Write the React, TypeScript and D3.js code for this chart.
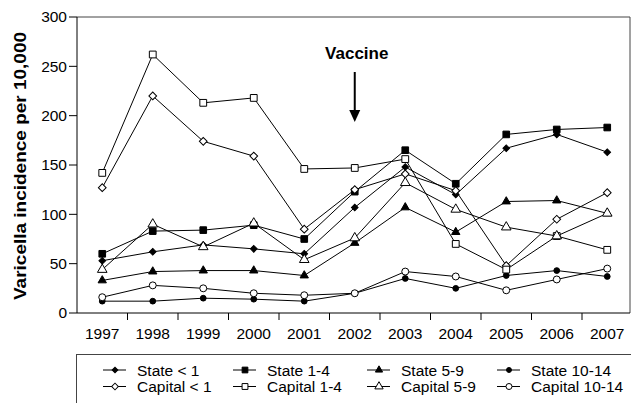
import React from 'react';
import * as d3 from 'd3';

const years = ['1997', '1998', '1999', '2000', '2001', '2002', '2003', '2004', '2005', '2006', '2007'];
const yTicks = [0, 50, 100, 150, 200, 250, 300];

const stateLt1 = [53, 62, 69, 65, 60, 107, 148, 120, 167, 181, 163];
const state1to4 = [60, 83, 84, 89, 75, 123, 165, 131, 181, 186, 188];
const state5to9 = [33, 42, 43, 43, 38, 71, 107, 82, 113, 114, 101];
const state10to14 = [12, 12, 15, 14, 12, 20, 35, 25, 38, 43, 37];
const capitalLt1 = [127, 220, 174, 159, 85, 125, 141, 124, 48, 95, 122];
const capital1to4 = [142, 262, 213, 218, 146, 147, 156, 70, 44, 78, 64];
const capital5to9 = [44, 90, 67, 91, 54, 76, 132, 105, 87, 78, 101];
const capital10to14 = [16, 28, 25, 20, 18, 20, 42, 37, 23, 34, 45];

const series = [
  { name: 'State < 1', values: stateLt1, shape: 'diamond', filled: true },
  { name: 'State 1-4', values: state1to4, shape: 'square', filled: true },
  { name: 'State 5-9', values: state5to9, shape: 'triangle', filled: true },
  { name: 'State 10-14', values: state10to14, shape: 'circle', filled: true },
  { name: 'Capital < 1', values: capitalLt1, shape: 'diamond', filled: false },
  { name: 'Capital 1-4', values: capital1to4, shape: 'square', filled: false },
  { name: 'Capital 5-9', values: capital5to9, shape: 'triangle', filled: false },
  { name: 'Capital 10-14', values: capital10to14, shape: 'circle', filled: false },
];

const font = 'Liberation Sans, Arial, Helvetica, sans-serif';

const markerPath = (shape: string, filled: boolean, k = 1) => {
  if (shape === 'diamond') return d3.symbol(d3.symbolSquare, (filled ? 22 : 30) * k)();
  if (shape === 'square') return d3.symbol(d3.symbolSquare, (filled ? 44 : 46) * k)();
  if (shape === 'triangle') return d3.symbol(d3.symbolTriangle, (filled ? 30 : 40) * k)();
  return d3.symbol(d3.symbolCircle, (filled ? 26 : 38) * k)();
};

const Marker = ({ shape, filled, x, y, k }: any) => (
  <path
    d={markerPath(shape, filled, k) || ''}
    transform={`translate(${x},${y})${shape === 'diamond' ? ' rotate(45)' : ''}`}
    fill={filled ? '#000' : '#fff'}
    stroke="#000"
    strokeWidth={1}
  />
);

export default function App() {
  const width = 631;
  const height = 403;
  const left = 77;
  const right = 632.5;
  const top = 17;
  const bottom = 313;

  const x = d3.scaleBand().domain(years).range([left, right]);
  const y = d3.scaleLinear().domain([0, 300]).range([bottom, top]);
  const cx = (yr: string) => (x(yr) as number) + x.bandwidth() / 2;

  const line = d3
    .line<number>()
    .x((d, i) => cx(years[i]))
    .y((d) => y(d));

  const vaccineX = cx('2002');

  const legendCols = [103, 233, 367, 497];
  const legendRows = [370, 386.5];

  return (
    <svg
      width={width}
      height={height}
      style={{ position: 'absolute', left: 0, top: 0, fontFamily: font }}
    >
      <rect width={width} height={height} fill="#fff" />
      {/* frame */}
      <line x1={left} x2={630} y1={top} y2={top} stroke="#444" strokeWidth={1} />
      <line x1={630} x2={630} y1={top} y2={bottom} stroke="#444" strokeWidth={1} />
      <line x1={left} x2={left} y1={top} y2={bottom} stroke="#000" strokeWidth={1} />
      <line x1={left} x2={630} y1={bottom} y2={bottom} stroke="#000" strokeWidth={1} />

      {/* y axis */}
      {yTicks.map((t) => (
        <g key={t} transform={`translate(0,${y(t)})`}>
          <line x1={left - 8} x2={left} stroke="#000" />
          <text x={67} dy="0.35em" textAnchor="end" fontSize={15.5}>
            {t}
          </text>
        </g>
      ))}
      <text
        transform={`translate(26,${166}) rotate(-90)`}
        textAnchor="middle"
        fontSize={16.5}
        fontWeight="bold"
        textLength={268}
        lengthAdjust="spacingAndGlyphs"
      >
        Varicella incidence per 10,000
      </text>

      {/* x axis */}
      {years.map((yr) => (
        <g key={yr}>
          <line
            x1={(x(yr) as number) + x.bandwidth()}
            x2={(x(yr) as number) + x.bandwidth()}
            y1={bottom}
            y2={bottom + 7}
            stroke="#000"
          />
          <text x={cx(yr)} y={338.5} textAnchor="middle" fontSize={15.5}>
            {yr}
          </text>
        </g>
      ))}

      {/* vaccine annotation */}
      <text x={vaccineX + 2} y={59} textAnchor="middle" fontSize={17} fontWeight="bold">
        Vaccine
      </text>
      <line x1={vaccineX} x2={vaccineX} y1={72} y2={112} stroke="#000" strokeWidth={2} />
      <path
        d={`M${vaccineX - 5.5},${110}L${vaccineX + 5.5},${110}L${vaccineX},${122}Z`}
        fill="#000"
      />

      {/* series lines */}
      {series.map((s) => (
        <path key={s.name} d={line(s.values) || ''} fill="none" stroke="#000" strokeWidth={1} />
      ))}
      {/* markers */}
      {series.map((s) => (
        <g key={s.name}>
          {s.values.map((v, i) => (
            <Marker key={i} shape={s.shape} filled={s.filled} x={cx(years[i])} y={y(v)} k={1} />
          ))}
        </g>
      ))}

      {/* legend */}
      <rect x={76.5} y={354.5} width={600} height={80} fill="none" stroke="#444" strokeWidth={1} />
      {series.map((s, i) => {
        const lx = legendCols[i % 4];
        const ly = legendRows[Math.floor(i / 4)];
        return (
          <g key={s.name}>
            <line x1={lx} x2={lx + 23} y1={ly} y2={ly} stroke="#000" />
            <Marker shape={s.shape} filled={s.filled} x={lx + 12} y={ly} k={0.75} />
            <text x={lx + 34} y={ly} dy="0.36em" fontSize={15.5}>
              {s.name}
            </text>
          </g>
        );
      })}
    </svg>
  );
}
